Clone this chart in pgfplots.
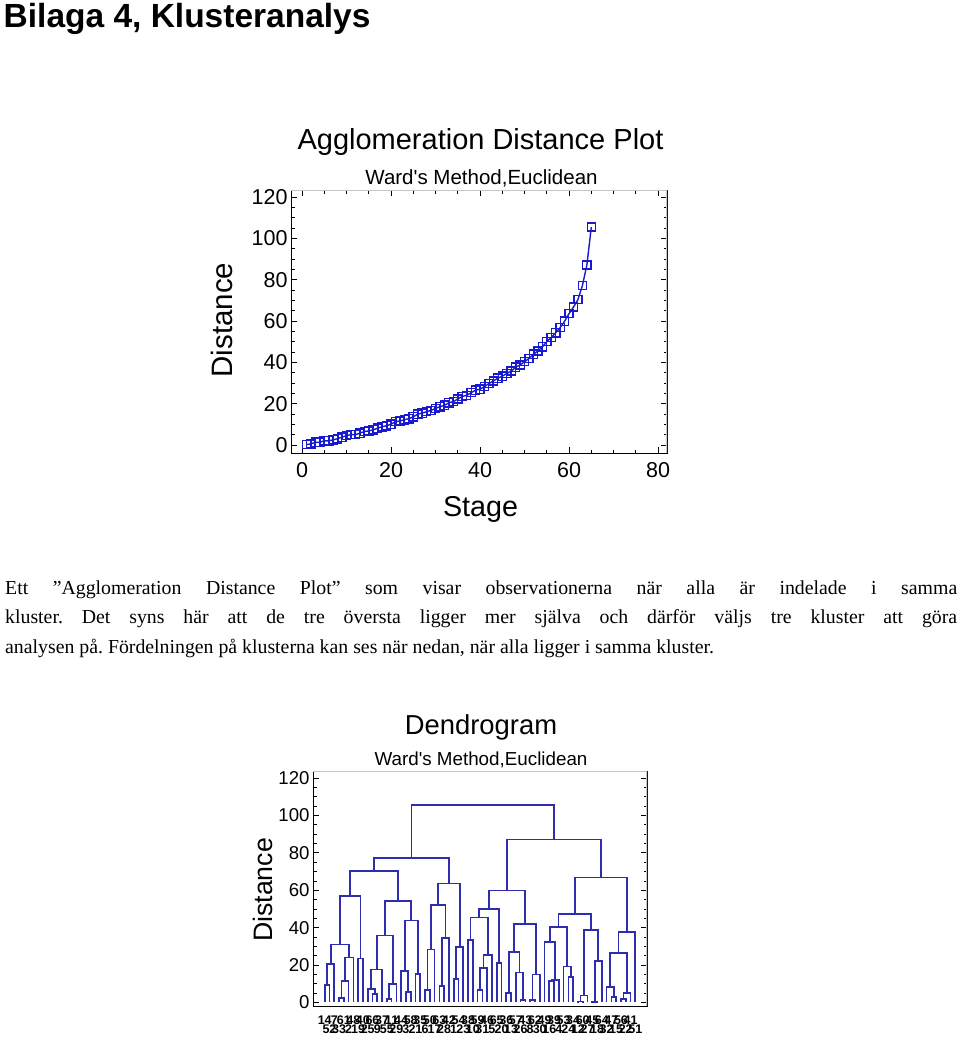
\documentclass[border=0pt]{standalone}
\usepackage{fontspec}
\setmainfont{Liberation Serif}
\setsansfont{Liberation Sans}
\usepackage{pgfplots}
\usepackage{pgfplotstable}
\pgfplotsset{compat=1.18}

\definecolor{plotblue}{RGB}{25,25,205}
\definecolor{dendblue}{RGB}{45,45,175}

% agglomeration distance per stage
\pgfplotstableread{
stage dist
1 0.2
2 0.5
3 1.3
4 1.3
5 2.0
6 2.0
7 2.5
8 3.0
9 3.8
10 4.5
11 5.0
12 5.0
13 5.7
14 6.5
15 6.8
16 7.3
17 8.1
18 8.8
19 9.3
20 10.0
21 11.3
22 11.6
23 12.2
24 12.7
25 13.6
26 14.9
27 15.4
28 16.1
29 16.7
30 17.7
31 18.5
32 19.2
33 20.4
34 21.0
35 22.2
36 23.5
37 24.0
38 25.3
39 26.5
40 27.0
41 28.3
42 29.7
43 31.0
44 32.3
45 33.3
46 34.6
47 35.8
48 37.6
49 38.7
50 40.3
51 41.9
52 43.9
53 45.5
54 47.5
55 50.0
56 52.0
57 54.3
58 56.8
59 59.9
60 63.6
61 66.8
62 70.4
63 77.2
64 87.1
65 105.5
}\agglo

% dendrogram links: each merge is drawn as leg up, bar across, leg down
\pgfplotstableread{
x y
1 0
1 9.3
2 9.3
2 0
nan nan
1.5 9.3
1.5 20.4
3 20.4
3 0
nan nan
4 0
4 2.5
5 2.5
5 0
nan nan
4.5 2.5
4.5 11.6
6 11.6
6 0
nan nan
5.25 11.6
5.25 24
7 24
7 0
nan nan
2.25 20.4
2.25 31
6.125 31
6.125 24
nan nan
8 0
8 23.5
9 23.5
9 0
nan nan
4.1875 31
4.1875 56.8
8.5 56.8
8.5 23.5
nan nan
11 0
11 4.5
12 4.5
12 0
nan nan
10 0
10 7.3
11.5 7.3
11.5 4.5
nan nan
10.75 7.3
10.75 17.7
13 17.7
13 0
nan nan
14 0
14 2
15 2
15 0
nan nan
14.5 2
14.5 10
16 10
16 0
nan nan
11.875 17.7
11.875 35.8
15.25 35.8
15.25 10
nan nan
18 0
18 5.7
19 5.7
19 0
nan nan
17 0
17 16.7
18.5 16.7
18.5 5.7
nan nan
20 0
20 15.4
21 15.4
21 0
nan nan
17.75 16.7
17.75 43.9
20.5 43.9
20.5 15.4
nan nan
13.5625 35.8
13.5625 54.3
19.125 54.3
19.125 43.9
nan nan
6.34375 56.8
6.34375 70.4
16.34375 70.4
16.34375 54.3
nan nan
22 0
22 6.5
23 6.5
23 0
nan nan
22.5 6.5
22.5 28.3
24 28.3
24 0
nan nan
25 0
25 8.8
26 8.8
26 0
nan nan
25.5 8.8
25.5 34.6
27 34.6
27 0
nan nan
23.25 28.3
23.25 52
26.25 52
26.25 34.6
nan nan
28 0
28 12.7
29 12.7
29 0
nan nan
28.5 12.7
28.5 29.7
30 29.7
30 0
nan nan
24.75 52
24.75 63.6
29.25 63.6
29.25 29.7
nan nan
11.34375 70.4
11.34375 77.2
27 77.2
27 63.6
nan nan
31 0
31 33.3
32 33.3
32 0
nan nan
33 0
33 6.8
34 6.8
34 0
nan nan
33.5 6.8
33.5 18.5
35 18.5
35 0
nan nan
34.25 18.5
34.25 25.3
36 25.3
36 0
nan nan
31.5 33.3
31.5 45.5
35.125 45.5
35.125 25.3
nan nan
37 0
37 21
38 21
38 0
nan nan
33.3125 45.5
33.3125 50
37.5 50
37.5 21
nan nan
39 0
39 5
40 5
40 0
nan nan
42 0
42 1.3
43 1.3
43 0
nan nan
41 0
41 16.1
42.5 16.1
42.5 1.3
nan nan
39.5 5
39.5 27
41.75 27
41.75 16.1
nan nan
44 0
44 1.3
45 1.3
45 0
nan nan
44.5 1.3
44.5 14.9
46 14.9
46 0
nan nan
40.625 27
40.625 41.9
45.25 41.9
45.25 14.9
nan nan
35.40625 50
35.40625 59.9
42.9375 59.9
42.9375 41.9
nan nan
48 0
48 11.3
49 11.3
49 0
nan nan
48.5 11.3
48.5 12.2
50 12.2
50 0
nan nan
47 0
47 32.3
49.25 32.3
49.25 12.2
nan nan
52 0
52 13.6
53 13.6
53 0
nan nan
51 0
51 19.2
52.5 19.2
52.5 13.6
nan nan
48.125 32.3
48.125 40.3
51.75 40.3
51.75 19.2
nan nan
54 0
54 0.5
55 0.5
55 0
nan nan
54.5 0.5
54.5 3.8
56 3.8
56 0
nan nan
57 0
57 0.2
58 0.2
58 0
nan nan
57.5 0.2
57.5 22.2
59 22.2
59 0
nan nan
55.25 3.8
55.25 38.7
58.25 38.7
58.25 22.2
nan nan
49.9375 40.3
49.9375 47.5
56.75 47.5
56.75 38.7
nan nan
61 0
61 3
62 3
62 0
nan nan
60 0
60 8.1
61.5 8.1
61.5 3
nan nan
63 0
63 2
64 2
64 0
nan nan
63.5 2
63.5 5
65 5
65 0
nan nan
60.75 8.1
60.75 26.5
64.25 26.5
64.25 5
nan nan
62.5 26.5
62.5 37.6
66 37.6
66 0
nan nan
53.34375 47.5
53.34375 66.8
64.25 66.8
64.25 37.6
nan nan
39.171875 59.9
39.171875 87.1
58.796875 87.1
58.796875 66.8
nan nan
19.171875 77.2
19.171875 105.5
48.984375 105.5
48.984375 87.1
}\links

\pgfplotsset{
  sgframe/.style={
    scale only axis,
    axis line style={black, line width=0.9pt},
    tick align=inside,
    tick style={black, line width=0.8pt},
    major tick length=6pt,
    minor tick length=3.5pt,
    /pgf/number format/assume math mode=true,
  },
}

\begin{document}
\begin{tikzpicture}
\path (0pt,0pt) rectangle (960pt,-1037pt);

\node[anchor=base west, inner sep=0pt, font=\sffamily\bfseries\fontsize{33.5}{40}\selectfont]
  at (3.5pt,-27pt) {Bilaga 4, Klusteranalys};

% ---- agglomeration distance plot
\node[anchor=base, inner sep=0pt, font=\sffamily\fontsize{29}{34}\selectfont]
  at (480.5pt,-149.5pt) {Agglomeration Distance Plot};
\node[anchor=base, inner sep=0pt, font=\sffamily\fontsize{20.5}{24}\selectfont]
  at (481.5pt,-184pt) {Ward\textquotesingle s Method,Euclidean};
\node[anchor=base, inner sep=0pt, rotate=90, font=\sffamily\fontsize{29.5}{34}\selectfont]
  at (232pt,-320pt) {Distance};
\node[anchor=base, inner sep=0pt, font=\sffamily\fontsize{28.7}{34}\selectfont]
  at (480.5pt,-516pt) {Stage};

\begin{axis}[sgframe,
  at={(291pt,-453pt)}, anchor=south west,
  width=376pt, height=263pt,
  xmin=-2.47, xmax=82, ymin=-3.9, ymax=123.4,
  xtick={0,20,...,80}, ytick={0,20,...,120},
  minor tick num=3,
  tick label style={font=\sffamily\fontsize{21.5}{24}\selectfont},
  xticklabel style={yshift=-6pt},
]
\addplot[plotblue, line width=1.4pt, mark=square, mark size=4.1pt,
  mark options={solid, line width=1.4pt}] table[x=stage, y=dist] {\agglo};
\draw[gray!45, line width=1.3pt] (rel axis cs:0,1) -- (rel axis cs:1,1) -- (rel axis cs:1,0);
\end{axis}

% ---- text
\node[anchor=base west, inner sep=0pt] at (5pt,-594pt) {\parbox[t]{952pt}{%
\fontsize{19.8}{29.5}\selectfont\frenchspacing\tolerance=10000\hyphenpenalty=10000
Ett ”Agglomeration Distance Plot” som visar observationerna när alla är indelade i samma\linebreak
kluster. Det syns här att de tre översta ligger mer själva och därför väljs tre kluster att göra\linebreak
analysen på. Fördelningen på klusterna kan ses när nedan, när alla ligger i samma kluster.}};

% ---- dendrogram
\node[anchor=base, inner sep=0pt, font=\sffamily\fontsize{27.4}{32}\selectfont]
  at (481pt,-734pt) {Dendrogram};
\node[anchor=base, inner sep=0pt, font=\sffamily\fontsize{18.8}{22}\selectfont]
  at (481pt,-765pt) {Ward\textquotesingle s Method,Euclidean};
\node[anchor=base, inner sep=0pt, rotate=90, font=\sffamily\fontsize{26.7}{32}\selectfont]
  at (272.5pt,-890pt) {Distance};

\begin{axis}[sgframe,
  at={(313pt,-1006pt)}, anchor=south west,
  width=334pt, height=235pt,
  xmin=-1.45, xmax=68.45, ymin=-1.9, ymax=123.8,
  ytick={0,20,...,120}, minor y tick num=3,
  yticklabel style={font=\sffamily\fontsize{18.6}{22}\selectfont},
  xtick={1,...,66},
  xtick style={draw=none},
  xticklabels={14,\raisebox{-9pt}{52},7,\raisebox{-9pt}{33},61,\raisebox{-9pt}{2},48,\raisebox{-9pt}{19},40,\raisebox{-9pt}{25},
    66,\raisebox{-9pt}{9},37,\raisebox{-9pt}{55},11,\raisebox{-9pt}{29},44,\raisebox{-9pt}{3},58,\raisebox{-9pt}{21},
    35,\raisebox{-9pt}{6},50,\raisebox{-9pt}{17},63,\raisebox{-9pt}{28},42,\raisebox{-9pt}{1},54,\raisebox{-9pt}{23},
    38,\raisebox{-9pt}{10},59,\raisebox{-9pt}{31},46,\raisebox{-9pt}{5},65,\raisebox{-9pt}{20},36,\raisebox{-9pt}{13},
    57,\raisebox{-9pt}{26},43,\raisebox{-9pt}{8},62,\raisebox{-9pt}{30},49,\raisebox{-9pt}{16},39,\raisebox{-9pt}{4},
    53,\raisebox{-9pt}{24},34,\raisebox{-9pt}{12},60,\raisebox{-9pt}{27},45,\raisebox{-9pt}{18},64,\raisebox{-9pt}{32},
    47,\raisebox{-9pt}{15},56,\raisebox{-9pt}{22},41,\raisebox{-9pt}{51}},
  xticklabel style={anchor=base, yshift=-18.3pt, inner sep=0pt,
    font=\sffamily\bfseries\fontsize{12.5}{14}\selectfont},
]
\addplot[dendblue, line width=1.7pt, line join=miter, unbounded coords=jump]
  table[x=x, y=y] {\links};
\draw[gray!45, line width=1.3pt] (rel axis cs:0,1) -- (rel axis cs:1,1) -- (rel axis cs:1,0);
\end{axis}
\end{tikzpicture}
\end{document}
